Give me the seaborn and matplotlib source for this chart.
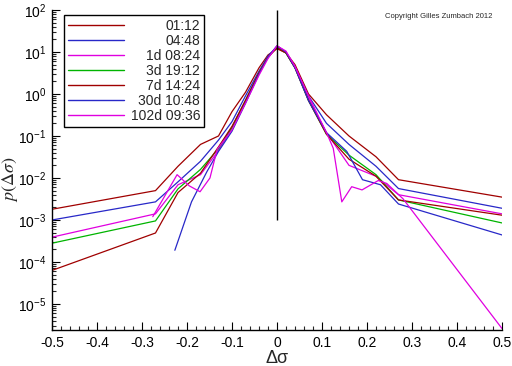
import numpy as np
import pandas as pd
import matplotlib
matplotlib.use("Agg")
import matplotlib.pyplot as plt
from matplotlib.ticker import MultipleLocator, FixedLocator
import seaborn as sns

# time horizons of the volatility increments
periods = ["01:12", "04:48", "1d 08:24", "3d 19:12", "7d 14:24", "30d 10:48", "102d 09:36"]
colors = ["#a00000", "#2828c8", "#e000e0", "#00b400", "#a00000", "#2828c8", "#e000e0"]
y_major = [1e-5, 1e-4, 1e-3, 1e-2, 1e-1, 1e0, 1e1, 1e2]

grid = [-0.5, -0.27, -0.22, -0.17, -0.13, -0.10, -0.07, -0.04, -0.02, 0.0,
        0.02, 0.04, 0.07, 0.11, 0.16, 0.22, 0.27, 0.5]

x_0112 = grid
p_0112 = [1.8e-3, 5.0e-3, 1.9e-2, 6.3e-2, 0.10, 0.38, 1.1, 4.2, 8.5, 12.0,
          9.5, 5.0, 1.0, 0.32, 0.10, 3.2e-2, 9.1e-3, 3.5e-3]

x_0448 = grid
p_0448 = [1.0e-3, 2.7e-3, 8.1e-3, 2.5e-2, 8.0e-2, 0.22, 0.9, 3.5, 8.0, 13.5,
          9.5, 4.2, 0.9, 0.2, 6.3e-2, 1.9e-2, 5.6e-3, 1.9e-3]

x_1d = grid
p_1d = [3.9e-4, 1.4e-3, 6.9e-3, 1.2e-2, 4.5e-2, 0.15, 0.7, 3.2, 7.5, 14.0,
        10.0, 4.5, 0.8, 0.12, 2.0e-2, 1.1e-2, 4.0e-3, 1.4e-3]

x_3d = grid
p_3d = [2.8e-4, 9.5e-4, 5.5e-3, 1.6e-2, 5.0e-2, 0.16, 0.7, 3.2, 7.5, 13.0,
        9.5, 4.2, 0.7, 0.11, 3.5e-2, 1.2e-2, 3.0e-3, 8.5e-4]

x_7d = grid
p_7d = [6.3e-5, 4.9e-4, 4.5e-3, 1.3e-2, 5.5e-2, 0.17, 0.7, 3.2, 7.5, 12.5,
        9.5, 4.2, 0.7, 0.11, 2.8e-2, 1.1e-2, 3.0e-3, 1.3e-3]

x_30d = [-0.227, -0.19, -0.156, -0.13, -0.10, -0.07, -0.04, -0.02, 0.0,
         0.02, 0.04, 0.07, 0.11, 0.155, 0.19, 0.23, 0.27, 0.5]
p_30d = [1.9e-4, 2.7e-3, 1.4e-2, 4.3e-2, 0.13, 0.6, 3.0, 7.5, 14.0,
         10.0, 4.2, 0.7, 0.12, 4.3e-2, 9.1e-3, 6.9e-3, 2.4e-3, 4.4e-4]

x_102d = [-0.276, -0.222, -0.195, -0.171, -0.149, -0.133, -0.10, -0.07, -0.04, -0.02, 0.0,
          0.02, 0.04, 0.07, 0.11, 0.125, 0.144, 0.166, 0.189, 0.225, 0.244, 0.28, 0.5]
p_102d = [1.2e-3, 1.2e-2, 6.5e-3, 4.7e-3, 1.0e-2, 4.8e-2, 0.14, 0.6, 2.8, 7.0, 14.0,
          10.5, 4.5, 0.9, 0.12, 5.1e-2, 2.7e-3, 6.2e-3, 5.2e-3, 8.7e-3, 7.4e-3, 3.2e-3, 2.6e-6]

x_lists = [x_0112, x_0448, x_1d, x_3d, x_7d, x_30d, x_102d]
p_lists = [p_0112, p_0448, p_1d, p_3d, p_7d, p_30d, p_102d]

frames = []
for name, xs, ps in zip(periods, x_lists, p_lists):
    frames.append(pd.DataFrame({"dsigma": xs, "p": ps, "period": name}))
df = pd.concat(frames, ignore_index=True)

sns.set_style("ticks")
plt.rcParams["font.family"] = ["Liberation Sans", "DejaVu Sans"]
plt.rcParams["mathtext.fontset"] = "stix"

fig = plt.figure(figsize=(5.12, 3.66), dpi=100)
ax = fig.add_axes([52 / 512, 1 - 330 / 366, 450 / 512, 320 / 366])

sns.lineplot(data=df, x="dsigma", y="p", hue="period", hue_order=periods,
             palette=colors, estimator=None, sort=False, lw=0.9,
             legend=False, ax=ax)
ax.vlines(0, 1e-3, 1e2, color="black", lw=1)

ax.set_yscale("log")
ax.set_xlim(-0.5, 0.5)
ax.set_ylim(2.4e-6, 1e2)
ax.yaxis.set_major_locator(FixedLocator(y_major))
ax.xaxis.set_major_locator(MultipleLocator(0.1))
ax.xaxis.set_minor_locator(MultipleLocator(0.02))
ax.xaxis.set_major_formatter(lambda v, pos: "0" if abs(v) < 1e-9 else f"{v:g}")

for s in ["top", "right"]:
    ax.spines[s].set_visible(False)
for s in ["left", "bottom"]:
    ax.spines[s].set_color("black")
    ax.spines[s].set_linewidth(1)
ax.tick_params(which="major", direction="in", length=6, width=0.8, labelsize=10, pad=4, colors="black")
ax.tick_params(which="minor", direction="in", length=3, width=0.8)

ax.set_xlabel("Δσ", fontsize=13)
ax.set_ylabel(r"$p(\Delta\sigma)$", fontsize=13)
ax.xaxis.set_label_coords(0.5, -0.062)
ax.yaxis.set_label_coords(-0.07, 0.47)

leg = ax.legend(ax.lines[:len(periods)], periods, loc="upper left",
                bbox_to_anchor=(12 / 450, 1 - 5 / 320), borderaxespad=0,
                fancybox=False, framealpha=1, edgecolor="black",
                fontsize=10, handlelength=4.0, handletextpad=0.5,
                labelspacing=0.07, borderpad=0.3)
leg.get_frame().set_linewidth(1)
for h in leg.get_lines():
    h.set_linewidth(1)

# right-align the legend labels
renderer = fig.canvas.get_renderer()
texts = leg.get_texts()
widths = [t.get_window_extent(renderer).width for t in texts]
wmax = max(widths)
for t, w in zip(texts, widths):
    t.set_position((wmax - w, 0))

fig.text(0.752, 0.952, "Copyright Gilles Zumbach 2012", fontsize=5.5)

fig.savefig("out.png", dpi=100)
